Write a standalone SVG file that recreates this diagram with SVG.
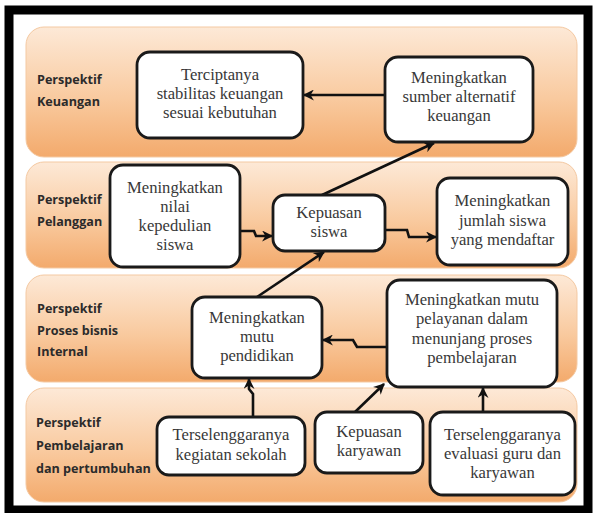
<svg xmlns="http://www.w3.org/2000/svg" width="595" height="513" viewBox="0 0 595 513">
<defs>
<linearGradient id="band" x1="0" y1="0" x2="0" y2="1">
<stop offset="0" stop-color="#fde9d7"/>
<stop offset="0.55" stop-color="#f9ca9f"/>
<stop offset="1" stop-color="#f3aa6c"/>
</linearGradient>
<marker id="ah" viewBox="0 0 10 10" markerUnits="userSpaceOnUse" markerWidth="12" markerHeight="11" refX="9" refY="5" orient="auto">
<path d="M0,0 L10,5 L0,10 L3,5 z" fill="#111"/>
</marker>
<style>
.band{fill:url(#band);stroke:#f4c9a2;stroke-width:1}
.lbl{font-family:"Open Sans","Liberation Sans",sans-serif;font-weight:bold;font-size:12.6px;fill:#2b2b2b}
.node rect{fill:#fff;stroke:#1a1a1a;stroke-width:2.8}
.node text{font-family:"Liberation Serif",serif;font-size:16.6px;fill:#383838;text-anchor:middle}
.conn path{fill:none;stroke:#111;stroke-width:2.6;marker-end:url(#ah)}
</style>
</defs>
<rect x="0" y="0" width="595" height="513" fill="#fff"/>
<rect x="9" y="10" width="579" height="500" fill="#fff" stroke="#000" stroke-width="9"/>

<g id="bands">
<rect class="band" x="26" y="27" width="551" height="130" rx="18"/>
<rect class="band" x="26" y="162" width="551" height="106" rx="18"/>
<rect class="band" x="26" y="275" width="551" height="107" rx="18"/>
<rect class="band" x="26" y="388" width="551" height="114" rx="18"/>
</g>

<g id="labels">
<text class="lbl" x="37" y="84">Perspektif</text>
<text class="lbl" x="37" y="106">Keuangan</text>
<text class="lbl" x="37" y="204">Perspektif</text>
<text class="lbl" x="37" y="226">Pelanggan</text>
<text class="lbl" x="37" y="313">Perspektif</text>
<text class="lbl" x="37" y="335">Proses bisnis</text>
<text class="lbl" x="37" y="356">Internal</text>
<text class="lbl" x="36" y="427">Perspektif</text>
<text class="lbl" x="36" y="450">Pembelajaran</text>
<text class="lbl" x="36" y="473">dan pertumbuhan</text>
</g>

<g id="connectors" class="conn">
<path d="M385,95 H304"/>
<path d="M240,231 H254 L256,236 H272"/>
<path d="M385,230 H407 L409,237 H436"/>
<path d="M322,195 L434,143"/>
<path d="M257,297 L324,252"/>
<path d="M387,347 H357 L353,340 H323"/>
<path d="M253,417 V394 L249,389 V379"/>
<path d="M355,412 L384,384"/>
<path d="M483,412 V388"/>
</g>

<g id="nodeA" class="node">
<rect x="137" y="52" width="166" height="86" rx="13"/>
<text x="220" y="80">Terciptanya</text>
<text x="220" y="99">stabilitas keuangan</text>
<text x="220" y="118">sesuai kebutuhan</text>
</g>
<g id="nodeB" class="node">
<rect x="385" y="57" width="148" height="85" rx="13"/>
<text x="459" y="83">Meningkatkan</text>
<text x="459" y="102">sumber alternatif</text>
<text x="459" y="121">keuangan</text>
</g>
<g id="nodeC" class="node">
<rect x="110" y="165" width="130" height="102" rx="13"/>
<text x="175" y="193">Meningkatkan</text>
<text x="175" y="212">nilai</text>
<text x="175" y="231">kepedulian</text>
<text x="175" y="250">siswa</text>
</g>
<g id="nodeD" class="node">
<rect x="273" y="195" width="112" height="56" rx="12"/>
<text x="329" y="218">Kepuasan</text>
<text x="329" y="237">siswa</text>
</g>
<g id="nodeE" class="node">
<rect x="437" y="178" width="131" height="87" rx="13"/>
<text x="502.5" y="206">Meningkatkan</text>
<text x="502.5" y="226">jumlah siswa</text>
<text x="502.5" y="245">yang mendaftar</text>
</g>
<g id="nodeF" class="node">
<rect x="192" y="297" width="130" height="81" rx="13"/>
<text x="257" y="323">Meningkatkan</text>
<text x="257" y="342">mutu</text>
<text x="257" y="361">pendidikan</text>
</g>
<g id="nodeG" class="node">
<rect x="387" y="280" width="170" height="107" rx="13"/>
<text x="472" y="305">Meningkatkan mutu</text>
<text x="472" y="324">pelayanan dalam</text>
<text x="472" y="344">menunjang proses</text>
<text x="472" y="363">pembelajaran</text>
</g>
<g id="nodeH" class="node">
<rect x="157" y="417" width="148" height="58" rx="12"/>
<text x="231" y="440">Terselenggaranya</text>
<text x="231" y="460">kegiatan sekolah</text>
</g>
<g id="nodeI" class="node">
<rect x="315" y="412" width="108" height="61" rx="12"/>
<text x="369" y="437">Kepuasan</text>
<text x="369" y="456">karyawan</text>
</g>
<g id="nodeJ" class="node">
<rect x="430" y="412" width="145" height="83" rx="13"/>
<text x="502.5" y="440">Terselenggaranya</text>
<text x="502.5" y="459">evaluasi guru dan</text>
<text x="502.5" y="478">karyawan</text>
</g>
</svg>
